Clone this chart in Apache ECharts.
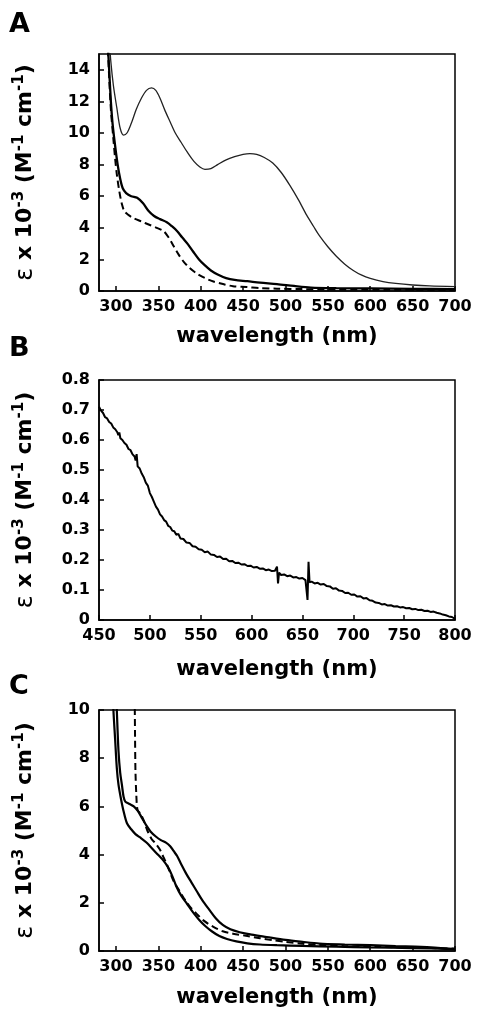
<!DOCTYPE html>
<html>
<head>
<meta charset="utf-8">
<script src="https://cdn.jsdelivr.net/npm/echarts@6/dist/echarts.min.js"></script>
<style>
html,body{margin:0;padding:0;background:#fff;}
#chart{width:477px;height:1009px;}
</style>
</head>
<body>
<div id="chart"></div>
<script>
// ---------- Panel A ----------
const aThinWl  = [292,294,297,301,305,309,313,318,324,330,336,342,347,352,358,364,370,377,384,392,399,405,412,420,430,440,450,458,466,475,485,495,505,515,525,533,540,550,560,570,580,590,600,615,630,650,670,700];
const aThinEps = [16,14.5,13.0,11.6,10.3,9.87,10.0,10.6,11.5,12.2,12.7,12.85,12.7,12.2,11.4,10.7,10.0,9.4,8.8,8.2,7.85,7.7,7.75,8.0,8.3,8.5,8.65,8.7,8.65,8.45,8.1,7.5,6.7,5.8,4.8,4.1,3.5,2.8,2.2,1.7,1.3,1.0,0.8,0.6,0.48,0.38,0.32,0.28];
const aThickWl  = [290,292,294,296,299,302,305,308,312,318,325,332,338,345,352,360,366,372,378,385,391,398,405,412,420,430,440,455,470,490,510,530,560,600,650,700];
const aThickEps = [16,14,12,10.6,9.2,8.0,7.1,6.5,6.2,6.0,5.9,5.55,5.1,4.75,4.55,4.35,4.1,3.8,3.4,2.95,2.5,2.0,1.62,1.3,1.05,0.82,0.7,0.62,0.53,0.44,0.32,0.22,0.18,0.16,0.14,0.12];
const aDashWl  = [290,292,294,297,299,301,304,307,310,315,321,330,340,348,356,362,368,374,380,387,395,405,415,425,438,454,470,490,520,560,620,700];
const aDashEps = [16,13.5,11.5,9.6,8.4,7.4,6.3,5.5,5.05,4.8,4.6,4.4,4.18,4.0,3.8,3.4,2.85,2.3,1.85,1.45,1.12,0.82,0.6,0.46,0.3,0.25,0.18,0.15,0.12,0.1,0.08,0.06];
const aXTicks = [300,350,400,450,500,550,600,650,700];
const aYTicks = [0,2,4,6,8,10,12,14];

// ---------- Panel B ----------
const bWl  = [450,452,454,456,458,460,462,464,466,468,469,470,471,473,475,477,479,481,483,485,486,487,488,490,492,494,496,498,500,502,504,506,508,510,512,514,516,518,520,522,524,526,528,530,533,536,539,542,545,548,551,554,557,560,563,566,569,572,575,578,581,584,587,590,593,596,599,602,605,608,611,614,617,620,623,625,626,627,629,632,635,638,641,644,647,650,653,655,656,657,659,662,665,668,671,674,677,680,683,686,689,692,695,698,701,704,707,710,713,716,719,722,725,728,731,734,737,740,743,746,749,752,755,758,761,764,767,770,773,776,779,782,785,788,791,794,797,800];
const bEps = [0.711,0.698,0.690,0.676,0.672,0.660,0.655,0.642,0.636,0.626,0.616,0.625,0.606,0.600,0.590,0.584,0.570,0.566,0.552,0.545,0.532,0.553,0.512,0.505,0.488,0.476,0.458,0.448,0.423,0.410,0.394,0.378,0.368,0.352,0.345,0.333,0.328,0.314,0.310,0.298,0.296,0.284,0.287,0.272,0.270,0.258,0.257,0.246,0.244,0.236,0.234,0.226,0.228,0.218,0.217,0.210,0.212,0.203,0.204,0.196,0.197,0.190,0.191,0.185,0.186,0.180,0.181,0.175,0.177,0.171,0.172,0.166,0.168,0.163,0.164,0.178,0.122,0.158,0.150,0.152,0.146,0.148,0.142,0.143,0.138,0.140,0.133,0.067,0.194,0.126,0.128,0.122,0.124,0.118,0.120,0.113,0.112,0.104,0.106,0.098,0.097,0.090,0.091,0.084,0.085,0.078,0.079,0.072,0.073,0.066,0.064,0.058,0.057,0.052,0.053,0.048,0.049,0.045,0.046,0.042,0.043,0.039,0.040,0.036,0.037,0.033,0.034,0.030,0.031,0.027,0.028,0.024,0.022,0.018,0.016,0.012,0.010,0.004];

// ---------- Panel C ----------
const cUpWl  = [300,301,303,305,307,309,311,316,321,326,331,336,341,347,353,359,364,368,372,377,383,389,395,402,410,418,426,435,446,460,478,500,520,540,570,600,630,660,700];
const cUpEps = [11,10,8.3,7.4,6.9,6.4,6.2,6.1,6.0,5.8,5.5,5.2,4.95,4.75,4.6,4.5,4.35,4.15,3.95,3.6,3.2,2.85,2.5,2.1,1.72,1.35,1.08,0.9,0.78,0.68,0.58,0.46,0.38,0.31,0.27,0.24,0.2,0.17,0.08];
const cLowWl  = [296,297,299,301,303,306,309,313,318,323,329,336,344,350,356,361,366,371,377,384,391,398,405,413,422,431,442,455,470,490,520,560,600,650,700];
const cLowEps = [11,10,8.8,7.6,6.9,6.3,5.8,5.3,5.05,4.85,4.7,4.5,4.2,3.98,3.75,3.5,3.15,2.7,2.3,1.95,1.6,1.3,1.05,0.82,0.62,0.5,0.4,0.32,0.27,0.24,0.21,0.18,0.15,0.12,0.08];
const cDashWl  = [322,322.5,323,324,325.5,329,333,337,342,347,352,356,360,364,368,374,380,387,395,404,415,426,438,455,470,485,500,520,540,570,610,650,700];
const cDashEps = [11,9,7.5,6.5,5.85,5.7,5.4,5.0,4.65,4.45,4.2,3.9,3.6,3.25,2.9,2.55,2.2,1.85,1.55,1.25,1.0,0.82,0.72,0.62,0.53,0.45,0.38,0.3,0.25,0.2,0.17,0.14,0.1];
const cXTicks = [300,350,400,450,500,550,600,650,700];
const cYTicks = [0,2,4,6,8,10];

const xTitle = 'wavelength (nm)';
const yTitle = '{e|\u03b5} x 10{s|-3} (M{s|-1} cm{s|-1})';
const panelLetters = ['A','B','C'];

function zip(xs, ys){ return xs.map((x,i)=>[x, ys[i]]); }

const FONT = 'DejaVu Sans';
const black = '#000';

function xAxisCfg(gi, min, max, extra){
  return Object.assign({
    type:'value', gridIndex:gi, min:min, max:max,
    name:xTitle, nameLocation:'middle', nameGap:35,
    nameTextStyle:{fontFamily:FONT, fontWeight:'bold', fontSize:21, color:black},
    axisLine:{show:true, onZero:false, lineStyle:{color:black, width:1.5}},
    axisTick:{show:true, inside:true, length:5, lineStyle:{color:black, width:1.5}},
    axisLabel:{show:true, margin:8, fontFamily:FONT, fontWeight:'bold', fontSize:16, color:black},
    splitLine:{show:false}
  }, extra || {});
}
function yAxisCfg(gi, min, max, extra){
  return Object.assign({
    type:'value', gridIndex:gi, min:min, max:max,
    name:yTitle, nameLocation:'middle', nameGap:60, nameRotate:90,
    nameTextStyle:{fontFamily:FONT, fontWeight:'bold', fontSize:22, color:black, lineHeight:27,
      rich:{
        e:{fontFamily:'DejaVu Sans', fontWeight:'normal', fontSize:24, color:black, lineHeight:27},
        s:{fontFamily:FONT, fontWeight:'bold', fontSize:15, color:black, verticalAlign:'top', lineHeight:15}
      }},
    axisLine:{show:true, onZero:false, lineStyle:{color:black, width:1.5}},
    axisTick:{show:true, inside:true, length:5, lineStyle:{color:black, width:1.5}},
    axisLabel:{show:true, margin:9, fontFamily:FONT, fontWeight:'bold', fontSize:16, color:black},
    splitLine:{show:false}
  }, extra || {});
}

const chart = echarts.init(document.getElementById('chart'), null, {renderer:'canvas'});
const gridBase = {show:true, borderColor:black, borderWidth:1.5, backgroundColor:'transparent'};
const option = {
  animation:false,
  backgroundColor:'#fff',
  grid:[
    Object.assign({left:99, top:54, width:356, height:237}, gridBase),
    Object.assign({left:99, top:380, width:356, height:240}, gridBase),
    Object.assign({left:99, top:710, width:356, height:241}, gridBase)
  ],
  xAxis:[
    xAxisCfg(0, 280, 700, {}),
    xAxisCfg(1, 450, 800, {interval:50, nameGap:39}),
    xAxisCfg(2, 280, 700, {nameGap:36})
  ],
  yAxis:[
    yAxisCfg(0, 0, 15, {}),
    yAxisCfg(1, 0, 0.8, {interval:0.1}),
    yAxisCfg(2, 0, 10, {interval:2})
  ],
  graphic: panelLetters.map((t,i)=>({
    type:'text', left:9, top:[11,335,673][i],
    style:{text:t, fontFamily:FONT, fontWeight:'bold', fontSize:27, fill:black}
  })),
  series:[
    {type:'line', xAxisIndex:0, yAxisIndex:0, data:zip(aThinWl,aThinEps), showSymbol:false, smooth:0.3, lineStyle:{color:'#222', width:1.3}},
    {type:'line', xAxisIndex:0, yAxisIndex:0, data:zip(aThickWl,aThickEps), showSymbol:false, smooth:0.3, lineStyle:{color:black, width:2.3}},
    {type:'line', xAxisIndex:0, yAxisIndex:0, data:zip(aDashWl,aDashEps), showSymbol:false, smooth:0.3, lineStyle:{color:black, width:2, type:[7,4]}},
    {type:'line', xAxisIndex:1, yAxisIndex:1, data:zip(bWl,bEps), showSymbol:false, lineStyle:{color:black, width:2}},
    {type:'line', xAxisIndex:2, yAxisIndex:2, data:zip(cUpWl,cUpEps), showSymbol:false, smooth:0.3, lineStyle:{color:black, width:2.2}},
    {type:'line', xAxisIndex:2, yAxisIndex:2, data:zip(cLowWl,cLowEps), showSymbol:false, smooth:0.3, lineStyle:{color:black, width:2.2}},
    {type:'line', xAxisIndex:2, yAxisIndex:2, data:zip(cDashWl,cDashEps), showSymbol:false, smooth:0.3, lineStyle:{color:black, width:2, type:[7,4]}}
  ]
};
// custom tick positions for axes whose min is not a multiple of the step
option.xAxis[0].axisLabel.customValues = aXTicks;
option.xAxis[0].axisTick.customValues = aXTicks;
option.xAxis[2].axisLabel.customValues = cXTicks;
option.xAxis[2].axisTick.customValues = cXTicks;
option.yAxis[0].axisLabel.customValues = aYTicks;
option.yAxis[0].axisTick.customValues = aYTicks;
option.yAxis[2].axisLabel.customValues = cYTicks;
option.yAxis[2].axisTick.customValues = cYTicks;
chart.setOption(option);
</script>
</body>
</html>
